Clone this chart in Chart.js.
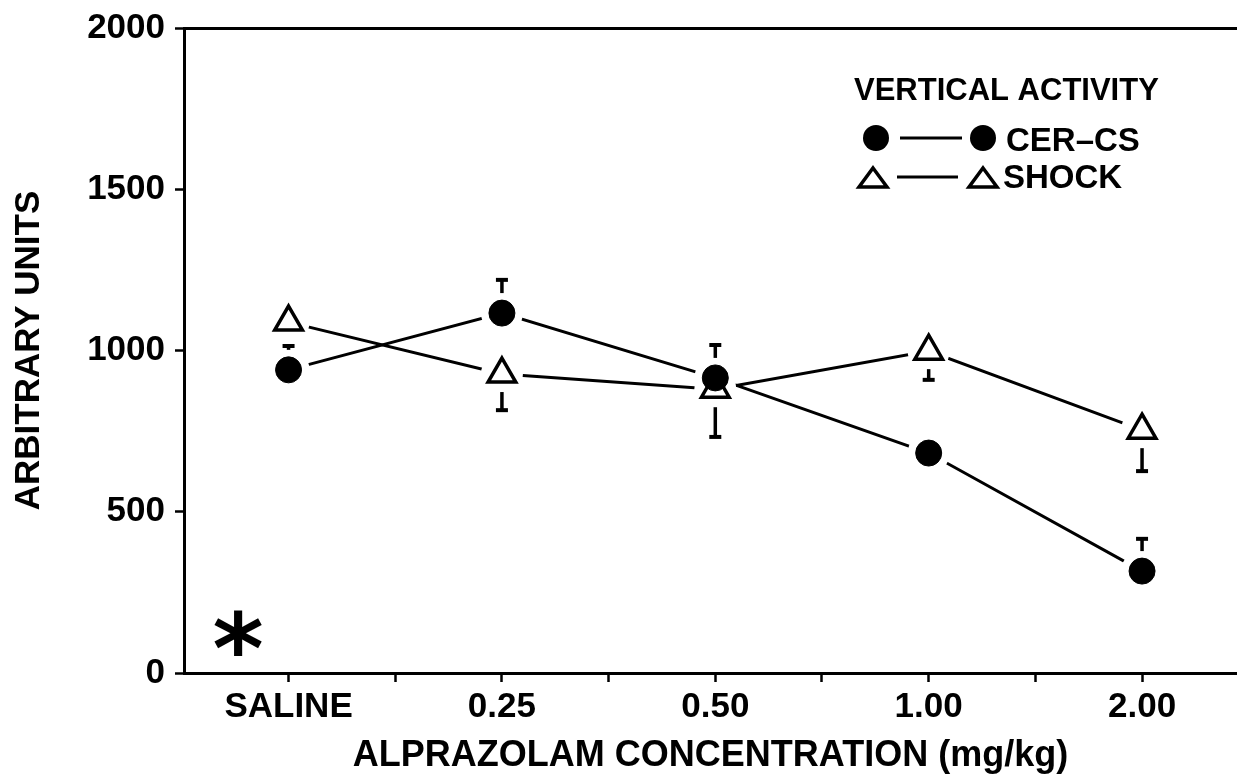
<!DOCTYPE html>
<html><head><meta charset="utf-8">
<script src="https://cdn.jsdelivr.net/npm/chart.js@4.4.1/dist/chart.umd.min.js"></script>
<style>html,body{margin:0;padding:0;background:#fff;overflow:hidden}</style>
</head><body>
<canvas id="c" width="1237" height="778"></canvas>
<script>
// ---- data ----
const categories = ['SALINE', '0.25', '0.50', '1.00', '2.00'];
const cerCs = [940, 1116, 915, 682, 316];
const cerCsErr = [74, 103, 102, 0, 100];      // upward SEM
const shock = [1088, 927, 880, 998, 753];
const shockErr = [0, 112, 148, 89, 127];      // downward SEM
const yTicks = [0, 500, 1000, 1500, 2000];

const FONT = '"Liberation Sans", Arial, Helvetica, sans-serif';
const xy = vals => vals.map((v, i) => ({x: i, y: v}));
const xTickValues = categories.flatMap((c, i) => i ? [i - 0.5, i] : [i]);

const annot = {
  id: 'annot',
  afterDatasetsDraw(chart) {
    const {ctx, scales: {x, y}} = chart;
    ctx.save();
    ctx.strokeStyle = '#000';
    ctx.lineCap = 'butt';
    const bar = (px, start, end) => {
      if (Math.abs(end - start) > 1) {
        ctx.lineWidth = 3.5;
        ctx.beginPath(); ctx.moveTo(px, start); ctx.lineTo(px, end); ctx.stroke();
      }
      ctx.lineWidth = 4;
      ctx.beginPath(); ctx.moveTo(px - 6, end); ctx.lineTo(px + 6, end); ctx.stroke();
    };
    categories.forEach((c, i) => {
      const px = x.getPixelForValue(i);
      if (cerCsErr[i] > 0) {
        const p = y.getPixelForValue(cerCs[i]);
        const e = y.getPixelForValue(cerCs[i] + cerCsErr[i]);
        bar(px, Math.max(p - 20, e), e);
      }
      if (shockErr[i] > 0) {
        const p = y.getPixelForValue(shock[i]);
        const e = y.getPixelForValue(shock[i] - shockErr[i]);
        bar(px, Math.min(p + 18, e), e);
      }
    });
    ctx.restore();
  },
  afterDraw(chart) {
    const ctx = chart.ctx;
    ctx.save();
    ctx.fillStyle = '#000'; ctx.strokeStyle = '#000';
    ctx.textAlign = 'left'; ctx.textBaseline = 'alphabetic';
    ctx.font = `bold 31px ${FONT}`;
    ctx.fillText('VERTICAL ACTIVITY', 854, 100);
    const circ = (cx, cy) => { ctx.beginPath(); ctx.arc(cx, cy, 13, 0, Math.PI * 2); ctx.fill(); };
    const tri = (cx, cy) => {
      ctx.lineWidth = 3.5; ctx.lineJoin = 'miter';
      ctx.beginPath(); ctx.moveTo(cx, cy - 10); ctx.lineTo(cx + 14, cy + 9); ctx.lineTo(cx - 14, cy + 9); ctx.closePath(); ctx.stroke();
    };
    const seg = (x1, x2, yy) => { ctx.lineWidth = 3; ctx.beginPath(); ctx.moveTo(x1, yy); ctx.lineTo(x2, yy); ctx.stroke(); };
    ctx.font = `bold 33px ${FONT}`;
    circ(876, 138); seg(900, 962, 138); circ(983, 138);
    ctx.fillText('CER–CS', 1006, 151);
    tri(873, 178); seg(897, 958, 177); tri(983, 178);
    ctx.fillText('SHOCK', 1003, 188);
    // asterisk
    ctx.font = `bold 100px "DejaVu Sans", sans-serif`;
    const m = ctx.measureText('*');
    const h = m.actualBoundingBoxAscent + m.actualBoundingBoxDescent;
    const size = 100 * 46 / h;
    ctx.font = `bold ${size}px "DejaVu Sans", sans-serif`;
    const m2 = ctx.measureText('*');
    const cx = 238, cy = 633;
    const bx = cx - (m2.actualBoundingBoxRight - m2.actualBoundingBoxLeft) / 2;
    const by = cy - (m2.actualBoundingBoxDescent - m2.actualBoundingBoxAscent) / 2;
    ctx.fillText('*', bx, by);
    ctx.restore();
  }
};

new Chart(document.getElementById('c'), {
  type: 'line',
  data: {
    datasets: [
      {label: 'cer-line', data: xy(cerCs), borderColor: '#000', borderWidth: 3, pointRadius: 0, tension: 0, fill: false, order: 5},
      {label: 'shock-line', data: xy(shock), borderColor: '#000', borderWidth: 3, pointRadius: 0, tension: 0, fill: false, order: 5},
      {label: 'halo', data: [...xy(cerCs), ...xy(shock)], showLine: false, pointRadius: 21, pointBackgroundColor: '#fff', pointBorderWidth: 0, order: 4},
      {label: 'SHOCK', data: xy(shock), showLine: false, pointStyle: 'triangle', pointRadius: 16, pointBackgroundColor: '#fff', pointBorderColor: '#000', pointBorderWidth: 3.5, order: 2},
      {label: 'CER-CS', data: xy(cerCs), showLine: false, pointStyle: 'circle', pointRadius: 13, pointBackgroundColor: '#000', pointBorderColor: '#000', pointBorderWidth: 1, order: 1}
    ]
  },
  options: {
    responsive: false,
    devicePixelRatio: 1,
    animation: false,
    layout: {autoPadding: false, padding: {top: 28, right: 0, bottom: 0, left: 0}},
    plugins: {legend: {display: false}, tooltip: {enabled: false}},
    scales: {
      x: {
        type: 'linear', min: -0.49, max: 4.445,
        afterBuildTicks: s => { s.ticks = xTickValues.map(v => ({value: v})); },
        afterFit: s => { s.height = 105; s.paddingLeft = 0; s.paddingRight = 0; },
        ticks: {
          autoSkip: false, maxRotation: 0, padding: 4, color: '#000',
          font: {family: FONT, size: 35, weight: 'bold'},
          callback: v => Number.isInteger(v) ? categories[v] : ''
        },
        grid: {drawOnChartArea: false, tickLength: 9, tickColor: '#000', tickWidth: 2.5},
        border: {color: '#000', width: 3},
        title: {display: true, text: 'ALPRAZOLAM CONCENTRATION (mg/kg)', color: '#000', font: {family: FONT, size: 36, weight: 'bold'}, padding: {top: 0, bottom: 0}}
      },
      y: {
        min: 0, max: 2000,
        afterBuildTicks: s => { s.ticks = yTicks.map(v => ({value: v})); },
        afterFit: s => { s.width = 184; s.paddingTop = 0; s.paddingBottom = 0; },
        ticks: {padding: 10, color: '#000', font: {family: FONT, size: 35, weight: 'bold'}, callback: v => String(v)},
        grid: {
          drawOnChartArea: true,
          color: c => (c.tick && c.tick.value === 2000) ? '#000' : 'rgba(0,0,0,0)',
          lineWidth: 3, tickLength: 9, tickColor: '#000', tickWidth: 2.5
        },
        border: {color: '#000', width: 3},
        title: {display: true, text: 'ARBITRARY UNITS', color: '#000', font: {family: FONT, size: 35, weight: 'bold'}, padding: {top: 8, bottom: 0}}
      }
    }
  },
  plugins: [annot]
});
</script>
</body></html>
